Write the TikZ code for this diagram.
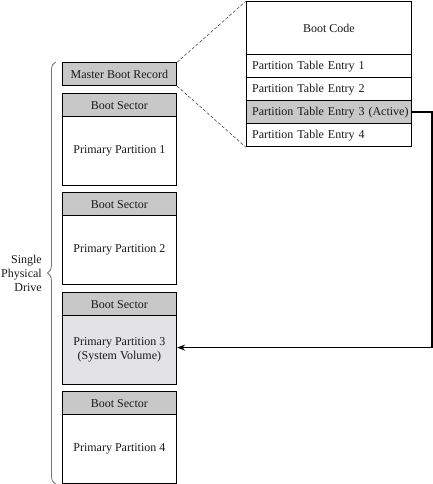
\documentclass[tikz,border=0pt]{standalone}
\usepackage{fontspec}
\setmainfont{Liberation Serif}
\usetikzlibrary{arrows.meta,decorations.pathreplacing}
\definecolor{hdrgray}{RGB}{200,200,200}
\definecolor{lightfill}{RGB}{227,227,229}
\definecolor{bracegray}{RGB}{115,115,115}
\begin{document}
\begin{tikzpicture}[x=1pt,y=-1pt,
  txt/.style={font=\fontsize{12}{14}\selectfont, text=black!90},
  leftbox/.style={txt, draw, line width=0.8pt, minimum width=114.6pt, inner sep=0pt, anchor=north west, align=center},
  hdr/.style={leftbox, fill=hdrgray, minimum height=23pt},
  part/.style={leftbox, fill=white, minimum height=69pt},
  rowbox/.style={txt, draw, line width=0.8pt, text width=153.6pt, inner xsep=6pt, inner ysep=0pt, minimum height=23pt, anchor=north west, align=left},
  codebox/.style={txt, draw, line width=0.8pt, minimum width=165.6pt, minimum height=53pt, inner sep=0pt, anchor=north west, align=center},
  zoomline/.style={dash pattern=on 3pt off 2pt, line width=0.5pt, black!80},
  activearrow/.style={line width=1.4pt, -{Stealth[length=8pt,width=6pt]}}
]
\useasboundingbox (0,0) rectangle (433,484);

% left column
\node[hdr] (mbr) at (61.7,62.3) {Master Boot Record};
\node[hdr] (bs1) at (61.7,93.3) {Boot Sector};
\node[part] (pp1) at (61.7,116.3) {Primary Partition 1};
\node[hdr] (bs2) at (61.7,192.3) {Boot Sector};
\node[part] (pp2) at (61.7,215.3) {Primary Partition 2};
\node[hdr] (bs3) at (61.7,292.3) {Boot Sector};
\node[part, fill=lightfill] (pp3) at (61.7,315.3) {Primary Partition 3\\(System Volume)};
\node[hdr] (bs4) at (61.7,391.3) {Boot Sector};
\node[part] (pp4) at (61.7,414.3) {Primary Partition 4};

% right table
\node[codebox] (boot) at (245.7,1.3) {Boot Code};
\node[rowbox] (pte1) at (245.7,54.3) {Partition Table Entry 1};
\node[rowbox] (pte2) at (245.7,77.3) {Partition Table Entry 2};
\node[rowbox, fill=hdrgray] (pte3) at (245.7,100.3) {\mbox{Partition Table Entry 3 (Active)}};
\node[rowbox] (pte4) at (245.7,123.3) {Partition Table Entry 4};

% zoom lines
\draw[zoomline] (mbr.north east) -- (boot.north west);
\draw[zoomline] (mbr.south east) -- (pte4.south west);

% active arrow
\draw[activearrow] (pte3.east) -- ++(20,0) |- ([yshift=2.6pt]pp3.east);

% brace
\coordinate (bbot) at (55.5,484);
\coordinate (btop) at (55.5,62);
\draw[bracegray, line width=0.8pt, decorate, decoration={brace, amplitude=8pt}] (bbot) -- (btop);
\node[txt, anchor=east, align=right, inner sep=0pt] (drive) at (42,273) {Single\\Physical\\Drive};
\end{tikzpicture}
\end{document}
